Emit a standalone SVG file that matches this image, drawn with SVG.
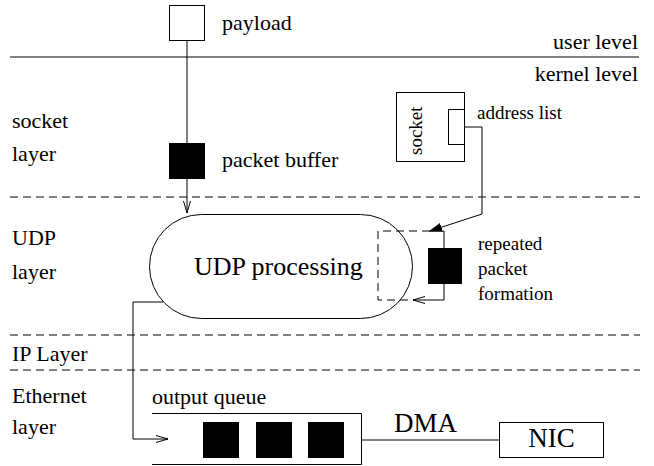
<svg xmlns="http://www.w3.org/2000/svg" width="654" height="466" viewBox="0 0 654 466">
<style>
text{font-family:"Liberation Serif","Times New Roman",serif;fill:#000}
.lbl{font-size:22px}
.big{font-size:26px}
.dm{font-size:27px}
.sm{font-size:19px}
.ln{stroke:#000;stroke-width:1;fill:none}
.dash{stroke:#000;stroke-width:1;fill:none;stroke-dasharray:8 5}
.box{stroke:#000;stroke-width:1;fill:#fff}
.blk{stroke:#000;stroke-width:1;fill:#000}
</style>
<defs>
<marker id="open" markerUnits="userSpaceOnUse" markerWidth="16" markerHeight="10" refX="13" refY="5" orient="auto">
<path d="M1,1.5 L13,5 L1,8.5" fill="none" stroke="#000" stroke-width="1"/>
</marker>
<marker id="fill" markerUnits="userSpaceOnUse" markerWidth="14" markerHeight="10" refX="12" refY="5" orient="auto">
<path d="M0,1 L12,5 L0,9 Z" fill="#000" stroke="#000" stroke-width="1"/>
</marker>
</defs>

<g id="layers">
<line class="ln" x1="10" y1="57" x2="639" y2="57"/>
<line class="dash" x1="10" y1="197" x2="640" y2="197"/>
<line class="dash" x1="10" y1="335" x2="640" y2="335"/>
<line class="dash" x1="10" y1="370" x2="640" y2="370"/>
<text class="lbl" x="638" y="49" text-anchor="end">user level</text>
<text class="lbl" x="638" y="81" text-anchor="end">kernel level</text>
<text class="lbl" x="12" y="128">socket</text>
<text class="lbl" x="12" y="161">layer</text>
<text class="lbl" x="12" y="245">UDP</text>
<text class="lbl" x="12" y="279">layer</text>
<text class="lbl" x="12" y="361">IP Layer</text>
<text class="lbl" x="12" y="403">Ethernet</text>
<text class="lbl" x="12" y="434">layer</text>
</g>

<g id="payload">
<rect class="box" x="169.5" y="5.5" width="35" height="35"/>
<text class="lbl" x="222" y="30">payload</text>
</g>

<g id="packet-buffer">
<rect class="blk" x="169.5" y="143.5" width="35" height="35"/>
<text class="lbl" x="222" y="167">packet buffer</text>
</g>

<g id="socket">
<rect class="box" x="396.5" y="92.5" width="68" height="69"/>
<text class="sm" transform="translate(422,155) rotate(-90)">socket</text>
<rect class="box" x="448.5" y="109.5" width="16" height="35"/>
<text class="sm" x="477" y="119">address list</text>
</g>

<g id="udp-processing">
<rect class="box" x="149.5" y="214.5" width="263" height="104" rx="52" ry="52"/>
<text class="big" x="194" y="275">UDP processing</text>
</g>

<g id="repeated-packet">
<rect class="blk" x="428.5" y="248.5" width="33" height="35"/>
<text class="sm" x="478" y="250">repeated</text>
<text class="sm" x="478" y="275">packet</text>
<text class="sm" x="478" y="300">formation</text>
</g>

<g id="output-queue">
<path class="ln" d="M152,413.5 H361.5 V464.5 H152"/>
<rect class="blk" x="203.5" y="422.5" width="35" height="35"/>
<rect class="blk" x="256.5" y="422.5" width="35" height="35"/>
<rect class="blk" x="308.5" y="422.5" width="35" height="35"/>
<text class="lbl" x="152" y="404">output queue</text>
</g>

<g id="dma">
<text class="dm" x="394" y="432">DMA</text>
</g>

<g id="nic">
<rect class="box" x="499.5" y="422.5" width="104" height="35"/>
<text class="dm" x="551.5" y="447" text-anchor="middle">NIC</text>
</g>

<g id="connectors">
<line class="ln" x1="187" y1="40" x2="187" y2="143"/>
<line class="ln" x1="187" y1="179" x2="187" y2="213" marker-end="url(#open)"/>
<path class="ln" d="M465,127 H482 V214 L430,231" marker-end="url(#fill)"/>
<path class="ln" d="M430,231 H444 V248 M444,284 V300 H413" marker-end="url(#open)"/>
<path class="dash" d="M430,231 H378 V300 H413"/>
<path class="ln" d="M163,302 H133 V439 H168" marker-end="url(#open)"/>
<line class="ln" x1="361" y1="440" x2="499" y2="440"/>
</g>
</svg>
